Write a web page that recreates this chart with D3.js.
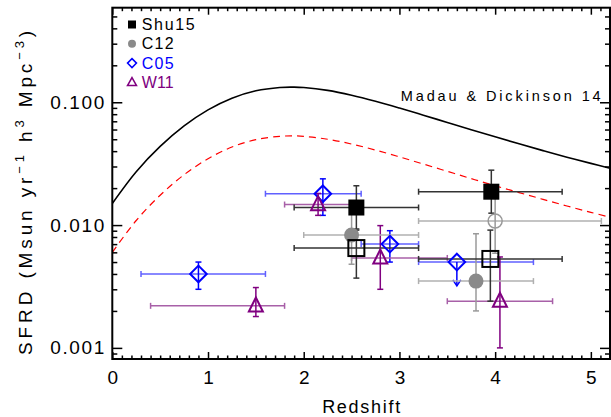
<!DOCTYPE html>
<html><head><meta charset="utf-8">
<script src="https://cdn.jsdelivr.net/npm/d3@7"></script>
<style>
body{margin:0;background:#fff}
svg{display:block}
text{font-family:"Liberation Sans",Arial,Helvetica,sans-serif;fill:#000}
</style>
</head><body>
<svg id="chart" width="611" height="417"></svg>
<script>
// ---------- data ----------
const xTickValues = [0, 1, 2, 3, 4, 5];
const xTickLabels = ["0", "1", "2", "3", "4", "5"];
const yTickValues = [0.001, 0.01, 0.1];
const yTickLabels = ["0.001", "0.010", "0.100"];

// Madau & Dickinson 14 curve
const mdZ =    [0, 0.25, 0.5, 0.75, 1.0, 1.25, 1.5, 1.75, 1.9, 2.0, 2.25, 2.5, 2.75, 3.0, 3.25, 3.5, 3.75, 4.0, 4.25, 4.5, 4.75, 5.0, 5.2];
const mdSFRD = [0.0150, 0.0272, 0.0437, 0.0642, 0.0867, 0.1079, 0.1240, 0.1321, 0.1329, 0.1319, 0.1250, 0.1142, 0.1020, 0.0898, 0.0785, 0.0685, 0.0598, 0.0523, 0.0459, 0.0404, 0.0357, 0.0318, 0.0290];
// red dashed curve
const redSFRD = [0.0060, 0.0109, 0.0175, 0.0257, 0.0347, 0.0432, 0.0496, 0.0528, 0.0532, 0.0528, 0.0500, 0.0457, 0.0408, 0.0359, 0.0314, 0.0274, 0.0239, 0.0209, 0.0184, 0.0162, 0.0143, 0.0127, 0.0116];

// Shu15
const shuZ      = [2.55, 3.96, 2.55, 3.95];
const shuSFRD   = [0.0139, 0.0187, 0.0065, 0.0053];
const shuZlo    = [1.90, 3.20, 1.90, 3.20];
const shuZhi    = [3.20, 4.70, 3.20, 4.70];
const shuLo     = [0.0093, 0.0125, 0.0037, 0.0024];
const shuHi     = [0.0209, 0.0280, 0.0091, 0.0091];
const shuFilled = [true, true, false, false];

// C12
const c12Z      = [2.50, 3.80, 4.00];
const c12SFRD   = [0.0083, 0.0035, 0.0108];
const c12Zlo    = [2.00, 3.20, 3.20];
const c12Zhi    = [3.20, 4.40, 5.11];
const c12Lo     = [0.0048, 0.0020, 0.0059];
const c12Hi     = [0.0139, 0.0085, 0.0176];
const c12Filled = [true, true, false];

// C05
const c05Z     = [0.90, 2.20, 2.90, 3.60];
const c05SFRD  = [0.0040, 0.0180, 0.0070, 0.0050];
const c05Zlo   = [0.30, 1.60, 2.60, 3.20];
const c05Zhi   = [1.60, 2.60, 3.20, 4.40];
const c05Lo    = [0.0030, 0.0120, 0.0050, 0.0032];
const c05Hi    = [0.0050, 0.0238, 0.0090, 0.0050];
const c05Upper = [false, false, false, true];

// W11
const w11Z    = [1.50, 2.15, 2.80, 4.05];
const w11SFRD = [0.0022, 0.0147, 0.0054, 0.0024];
const w11Zlo  = [0.40, 1.80, 2.50, 3.50];
const w11Zhi  = [1.80, 2.60, 3.50, 4.60];
const w11Lo   = [0.0018, 0.0120, 0.0030, 0.0010];
const w11Hi   = [0.0031, 0.0181, 0.0099, 0.0055];

const legendLabels = ["Shu15", "C12", "C05", "W11"];

// ---------- layout ----------
const L = 112.3, R = 610, T = 7.7, B = 359;
const svg = d3.select("#chart");
const x = d3.scaleLinear().domain([0, 5.2]).range([L, R]);
const y = d3.scaleLog().domain([0.000812, 0.589]).range([B, T]);

function fitText(sel, w) {
  sel.attr("textLength", w).attr("lengthAdjust", "spacing");
}

// clip
svg.append("clipPath").attr("id", "clip").append("rect")
  .attr("x", L).attr("y", T).attr("width", R - L).attr("height", B - T);

// ---------- curves ----------
const line = d3.line().x(d => x(d[0])).y(d => y(d[1])).curve(d3.curveCatmullRom.alpha(0.5));
const gCurves = svg.append("g").attr("clip-path", "url(#clip)");
gCurves.append("path").datum(mdZ.map((z, i) => [z, mdSFRD[i]]))
  .attr("d", line).attr("fill", "none").attr("stroke", "#000").attr("stroke-width", 1.6);
gCurves.append("path").datum(mdZ.map((z, i) => [z, redSFRD[i]]))
  .attr("d", line).attr("fill", "none").attr("stroke", "#ff0000").attr("stroke-width", 1.2)
  .attr("stroke-dasharray", "7,5");

// ---------- error bars ----------
const gErr = svg.append("g");
function errBars(zs, vs, zlo, zhi, lo, hi, hColor, vColor, upper) {
  zs.forEach((z, i) => {
    const cx = x(z), cy = y(vs[i]);
    gErr.append("line").attr("x1", x(zlo[i])).attr("x2", x(zhi[i])).attr("y1", cy).attr("y2", cy)
      .attr("stroke", hColor).attr("stroke-width", 1.5);
    [zlo[i], zhi[i]].forEach(e => gErr.append("line").attr("x1", x(e)).attr("x2", x(e))
      .attr("y1", cy - 3).attr("y2", cy + 3).attr("stroke", hColor).attr("stroke-width", 1.5));
    gErr.append("line").attr("x1", cx).attr("x2", cx).attr("y1", y(lo[i])).attr("y2", y(hi[i]))
      .attr("stroke", vColor).attr("stroke-width", 1.5);
    if (upper && upper[i]) {
      const by = y(lo[i]);
      gErr.append("path").attr("d", `M${cx - 4},${by - 6}L${cx},${by}L${cx + 4},${by - 6}`)
        .attr("fill", "none").attr("stroke", vColor).attr("stroke-width", 1.5);
    } else {
      [lo[i], hi[i]].forEach(e => gErr.append("line").attr("x1", cx - 3).attr("x2", cx + 3)
        .attr("y1", y(e)).attr("y2", y(e)).attr("stroke", vColor).attr("stroke-width", 1.5));
    }
  });
}
errBars(c05Z, c05SFRD, c05Zlo, c05Zhi, c05Lo, c05Hi, "#6060ff", "#0000ff", c05Upper);
errBars(w11Z, w11SFRD, w11Zlo, w11Zhi, w11Lo, w11Hi, "#a860a8", "#800080", null);
errBars(c12Z, c12SFRD, c12Zlo, c12Zhi, c12Lo, c12Hi, "#b0b0b0", "#9a9a9a", null);
errBars(shuZ, shuSFRD, shuZlo, shuZhi, shuLo, shuHi, "#333333", "#333333", null);

// ---------- markers ----------
const gM = svg.append("g");
function diamond(cx, cy, r) { return `M${cx},${cy - r}L${cx + r},${cy}L${cx},${cy + r}L${cx - r},${cy}Z`; }
function triangle(cx, cy, w, h) { return `M${cx},${cy - h * 0.6}L${cx + w / 2},${cy + h * 0.4}L${cx - w / 2},${cy + h * 0.4}Z`; }

c05Z.forEach((z, i) => gM.append("path").attr("d", diamond(x(z), y(c05SFRD[i]), 8.3))
  .attr("fill", "none").attr("stroke", "#0000ff").attr("stroke-width", 2));
w11Z.forEach((z, i) => gM.append("path").attr("d", triangle(x(z), y(w11SFRD[i]), 14, 14))
  .attr("fill", "none").attr("stroke", "#800080").attr("stroke-width", 2));
c12Z.forEach((z, i) => {
  const c = gM.append("circle").attr("cx", x(z)).attr("cy", y(c12SFRD[i])).attr("r", c12Filled[i] ? 7.5 : 7);
  if (c12Filled[i]) c.attr("fill", "#8a8a8a");
  else c.attr("fill", "none").attr("stroke", "#999").attr("stroke-width", 1.5);
});
shuZ.forEach((z, i) => {
  const s = gM.append("rect").attr("x", x(z) - 8).attr("y", y(shuSFRD[i]) - 8).attr("width", 16).attr("height", 16);
  if (shuFilled[i]) s.attr("fill", "#000");
  else s.attr("fill", "none").attr("stroke", "#000").attr("stroke-width", 2);
});

// ---------- axes ----------
const xMinor = d3.range(0, 52).map(d => d / 10).filter(d => d % 1 !== 0);
const yMinor = [];
[0.0001, 0.001, 0.01, 0.1].forEach(dec => { for (let k = 2; k <= 9; k++) { const v = dec * k; if (v > 0.000812 && v < 0.589) yMinor.push(v); } });

const axisStyle = g => { g.select(".domain").remove(); g.selectAll(".tick line").attr("stroke", "#000").attr("stroke-width", 1.5); };

svg.append("g").attr("transform", `translate(0,${B})`)
  .call(d3.axisBottom(x).tickValues(xTickValues).tickFormat((d, i) => xTickLabels[i]).tickSize(-7).tickPadding(12))
  .call(axisStyle).call(g => g.selectAll("text").attr("font-size", 19).attr("fill", "#000"));
svg.append("g").attr("transform", `translate(0,${B})`)
  .call(d3.axisBottom(x).tickValues(xMinor).tickFormat("").tickSize(-3.5)).call(axisStyle);
svg.append("g").attr("transform", `translate(0,${T})`)
  .call(d3.axisTop(x).tickValues(xTickValues).tickFormat("").tickSize(-7)).call(axisStyle);
svg.append("g").attr("transform", `translate(0,${T})`)
  .call(d3.axisTop(x).tickValues(xMinor).tickFormat("").tickSize(-3.5)).call(axisStyle);

svg.append("g").attr("transform", `translate(${L},0)`)
  .call(d3.axisLeft(y).tickValues(yTickValues).tickFormat((d, i) => yTickLabels[i]).tickSize(-10).tickPadding(8))
  .call(axisStyle).call(g => g.selectAll("text").attr("font-size", 19).attr("fill", "#000").call(fitText, 54));
svg.append("g").attr("transform", `translate(${L},0)`)
  .call(d3.axisLeft(y).tickValues(yMinor).tickFormat("").tickSize(-5)).call(axisStyle);
svg.append("g").attr("transform", `translate(${R},0)`)
  .call(d3.axisRight(y).tickValues(yTickValues).tickFormat("").tickSize(-10)).call(axisStyle);
svg.append("g").attr("transform", `translate(${R},0)`)
  .call(d3.axisRight(y).tickValues(yMinor).tickFormat("").tickSize(-5)).call(axisStyle);

// frame
svg.append("rect").attr("x", L).attr("y", T).attr("width", R - L).attr("height", B - T)
  .attr("fill", "none").attr("stroke", "#000").attr("stroke-width", 2);

// ---------- axis titles ----------
svg.append("text").attr("x", (L + R) / 2).attr("y", 413).attr("text-anchor", "middle")
  .attr("font-size", 18).text("Redshift").call(fitText, 78);

const yl = svg.append("text").attr("transform", "translate(32,191) rotate(-90)")
  .attr("text-anchor", "middle").attr("font-size", 19);
yl.append("tspan").text("SFRD (Msun yr");
yl.append("tspan").attr("dy", -8).attr("font-size", 13).text("−1");
yl.append("tspan").attr("dy", 8).text(" h");
yl.append("tspan").attr("dy", -8).attr("font-size", 13).text("3");
yl.append("tspan").attr("dy", 8).text(" Mpc");
yl.append("tspan").attr("dy", -8).attr("font-size", 13).text("−3");
yl.append("tspan").attr("dy", 8).text(")");
{
  const len = yl.node().getComputedTextLength();
  const n = yl.text().length;
  const target = 328;
  yl.attr("letter-spacing", Math.max(0, (target - len) / n));
}

// Madau label
svg.append("text").attr("x", 400.7).attr("y", 100.5).attr("font-size", 14.5)
  .text("Madau & Dickinson 14").call(fitText, 200);

// ---------- legend ----------
const legColors = ["#000", "#000", "#0000ff", "#800080"];
const legWidths = [53, 32, 32, 32];
const gL = svg.append("g");
legendLabels.forEach((lab, i) => {
  const cy = 24.5 + i * 19.3;
  const cx = 132;
  if (i === 0) gL.append("rect").attr("x", cx - 4).attr("y", cy - 4).attr("width", 8).attr("height", 8).attr("fill", "#000");
  if (i === 1) gL.append("circle").attr("cx", cx).attr("cy", cy).attr("r", 4).attr("fill", "#8a8a8a");
  if (i === 2) gL.append("path").attr("d", diamond(cx, cy, 4.5)).attr("fill", "none").attr("stroke", "#0000ff").attr("stroke-width", 1.5);
  if (i === 3) gL.append("path").attr("d", triangle(cx, cy, 9, 8)).attr("fill", "none").attr("stroke", "#800080").attr("stroke-width", 1.5);
  gL.append("text").attr("x", 141.7).attr("y", cy + 5.5).attr("font-size", 16)
    .style("fill", legColors[i]).text(lab).call(fitText, legWidths[i]);
});
</script>
</body></html>
